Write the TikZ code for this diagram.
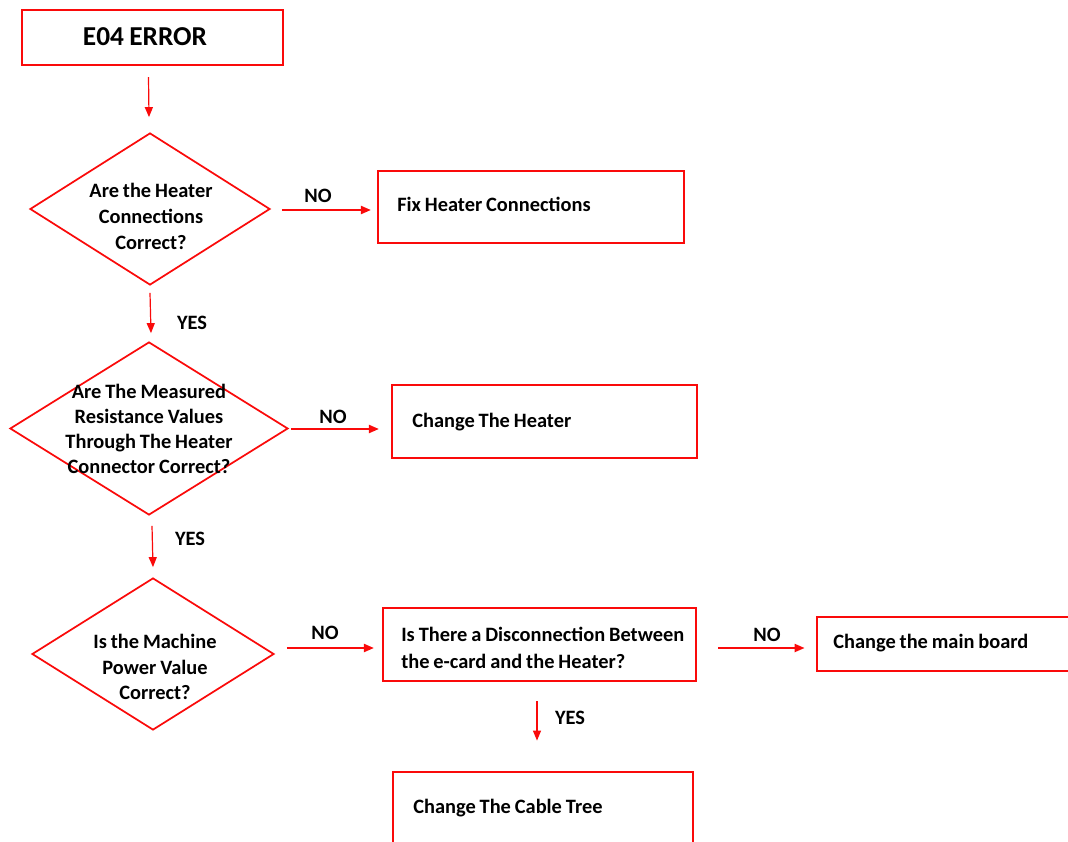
\documentclass[tikz,border=0pt]{standalone}
\usepackage{fontspec}
\setmainfont{Carlito}[WordSpace=0.85]
\usetikzlibrary{shapes.geometric,arrows.meta,calc}
\definecolor{fred}{RGB}{250,10,10}
\begin{document}
\begin{tikzpicture}[x=0.75pt,y=-0.75pt,
  every node/.style={font=\bfseries\fontsize{15.3}{20}\selectfont},
  box/.style={draw=fred,line width=1.6pt,rectangle,inner sep=0pt},
  dia/.style={draw=fred,line width=1.3pt,diamond,inner sep=0pt},
  txt/.style={inner sep=0pt,anchor=west,align=left},
  varr/.style={draw=fred,line width=0.9pt,-{Triangle[length=7.5pt,width=6pt]}},
  harr/.style={draw=fred,line width=1.5pt,-{Triangle[length=7.5pt,width=6pt]}},
  lbl/.style={inner sep=0pt}]
\useasboundingbox (0,0) rectangle (1068,842);
\begin{scope}
\clip (0,0) rectangle (1068,842);
% boxes
\node[box,minimum width=195.75pt,minimum height=41.25pt] (e04) at (152.5,37.5) {};
\node[inner sep=0pt,font=\bfseries\fontsize{20.5}{24}\selectfont] (e04t) at (145,37) {E04 ERROR};
\node[box,minimum width=229.5pt,minimum height=54pt] (fix) at (531,207) {};
\node[txt] (fixt) at (397,204) {Fix Heater Connections};
\node[box,minimum width=228.75pt,minimum height=54.75pt] (heat) at (544.5,421.5) {};
\node[txt] (heatt) at (412,422) {Change The Heater};
\node[box,minimum width=234.75pt,minimum height=54.75pt] (disc) at (539.5,644.5) {};
\node[txt,font=\bfseries\fontsize{15.3}{20.25}\selectfont] (disct) at (401,647.5) {Is There a Disconnection Between\\the e-card and the Heater?};
\node[box,minimum width=200pt,minimum height=40.5pt] (main) at (950,644) {};
\node[txt] (maint) at (833,643) {Change the main board};
\node[box,minimum width=225pt,minimum height=56pt] (cable) at (543,809) {};
\node[txt] (cablet) at (413,808) {Change The Cable Tree};
% diamonds
\node[dia,minimum width=180pt,minimum height=114pt] (d1) at (150,209) {};
\node[dia,minimum width=208.5pt,minimum height=129.75pt] (d2) at (149,428.5) {};
\node[dia,minimum width=181.5pt,minimum height=114pt] (d3) at (153,654) {};
\node[align=center,inner sep=0pt,font=\bfseries\fontsize{15.3}{19.5}\selectfont] (t1) at ($(d1.center)+(1,7)$) {Are the Heater\\Connections\\Correct?};
\node[align=center,inner sep=0pt,font=\bfseries\fontsize{15.3}{18.75}\selectfont] (t2) at ($(d2.center)+(0,0)$) {Are The Measured\\Resistance Values\\Through The Heater\\Connector Correct?};
\node[align=center,inner sep=0pt,font=\bfseries\fontsize{15.3}{19}\selectfont] (t3) at ($(d3.center)+(2,13)$) {Is the Machine\\Power Value\\Correct?};
% connectors
\draw[varr] ($(e04.south)+(-4,11)$) -- ($(d1.north)+(-1,-15)$);
\draw[harr] ($(d1.east)+(11,1)$) -- ($(fix.west |- d1.east)+(-6,1)$);
\draw[varr] ($(d1.south)+(0,7)$) -- ($(d2.north)+(2,-8)$);
\draw[harr] ($(d2.east)+(2,0.5)$) -- ($(heat.west |- d2.east)+(-12,0.5)$);
\draw[varr] ($(d2.south)+(3,10)$) -- ($(d3.north)+(0,-10)$);
\draw[harr] ($(d3.east)+(12,-6)$) -- ($(disc.west |- d3.east)+(-8,-6)$);
\draw[harr] ($(disc.east)+(21,3.5)$) -- ($(main.west |- disc.east)+(-11,3.5)$);
\draw[varr] ($(disc.south)+(-2.5,19)$) -- ($(cable.north)+(-6,-30)$);
% labels
\node[lbl] (no1) at (318,196) {NO};
\node[lbl] (yes1) at (192,323) {YES};
\node[lbl] (no2) at (333,417) {NO};
\node[lbl] (yes2) at (190,539) {YES};
\node[lbl] (no3) at (325,633) {NO};
\node[lbl] (no4) at (767,635) {NO};
\node[lbl] (yes3) at (570,718) {YES};
\end{scope}
\end{tikzpicture}
\end{document}
